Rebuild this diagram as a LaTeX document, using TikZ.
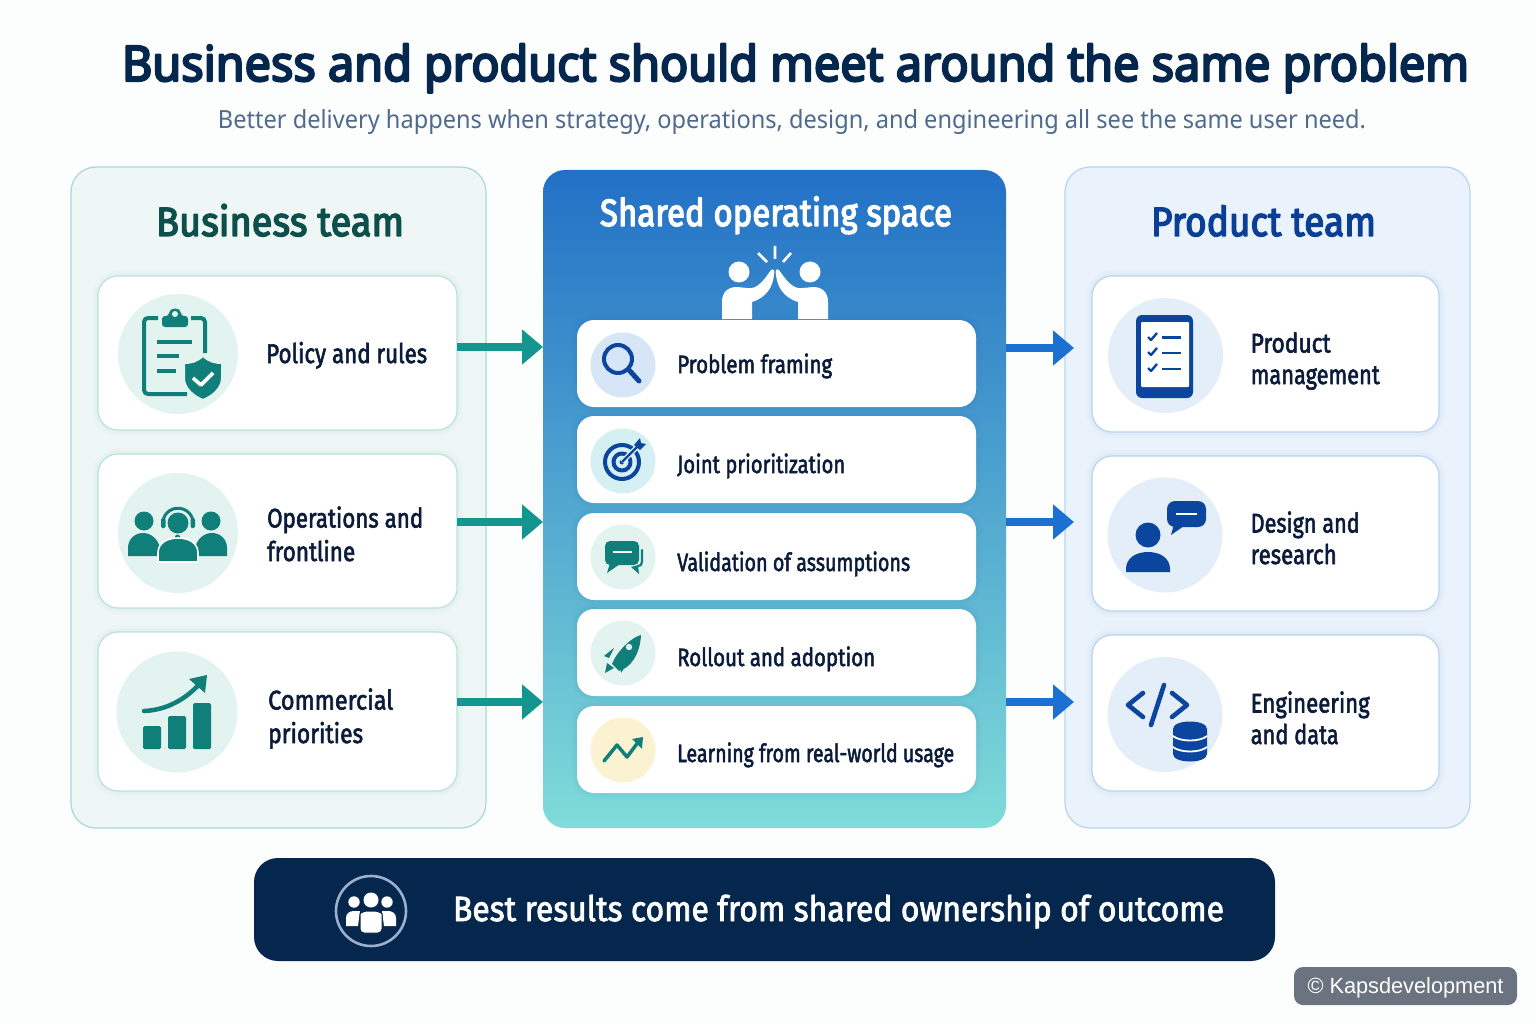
\documentclass[tikz,border=0pt]{standalone}
\usepackage{graphicx}
\usepackage{fontspec}
\usetikzlibrary{arrows.meta}
\setmainfont{Fira Sans}
\newfontfamily\fmed{Fira Sans}[FakeBold=2.4]
\newfontfamily\fhead{Fira Sans}[FakeBold=3.6]
\newfontfamily\ftitle{Noto Sans}[FakeBold=4.6]
\newfontfamily\fsub{Noto Sans}
\newfontfamily\fwm{Liberation Sans}
\newcommand\fitw[2]{\resizebox{#1pt}{\height}{#2}}
\definecolor{bgc}{HTML}{FCFDFD}
\definecolor{ink}{HTML}{0B1B3A}
\definecolor{tealp}{HTML}{EEF7F5}
\definecolor{tealb}{HTML}{A9D9D5}
\definecolor{tealc}{HTML}{E3F3EF}
\definecolor{teali}{HTML}{107F79}
\definecolor{teala}{HTML}{149690}
\definecolor{bluep}{HTML}{EAF3FC}
\definecolor{blueb}{HTML}{B5D4EF}
\definecolor{bluec}{HTML}{E3EEF9}
\definecolor{bluei}{HTML}{0B459E}
\definecolor{bluea}{HTML}{1B70D2}
\definecolor{navy}{HTML}{06274D}
\definecolor{cbt}{HTML}{2270C6}
\definecolor{cbm}{HTML}{4AA6D0}
\definecolor{cbb}{HTML}{80DCD9}
\definecolor{dsearch}{HTML}{D6E6F7}
\definecolor{dtarget}{HTML}{D5F0F2}
\definecolor{dlearn}{HTML}{FBF2D2}
\definecolor{ringc}{HTML}{9AB0CC}
\definecolor{wmc}{HTML}{6B7280}
\definecolor{subc}{HTML}{4F6A8C}
\definecolor{hlc}{HTML}{0D4F4A}
\definecolor{hrc}{HTML}{0B3F95}
\tikzset{
  softsh/.style={preaction={draw=#1,draw opacity=.015,line width=12pt},preaction={draw=#1,draw opacity=.02,line width=7pt},preaction={draw=#1,draw opacity=.02,line width=3pt}},
  box/.style={rectangle,inner sep=0pt,outer sep=0pt},
  panelbox/.style={box,rounded corners=25pt,line width=1.2pt},
  leftcard/.style={box,rounded corners=20pt,fill=white,draw=tealb!80,line width=1.1pt,softsh=teali},
  rightcard/.style={box,rounded corners=20pt,fill=white,draw=blueb,line width=1.1pt,softsh=bluei},
  midcard/.style={box,rounded corners=17pt,fill=white,softsh=bluei},
  disc/.style={circle,inner sep=0pt,outer sep=0pt,minimum size=#1},
  lbl/.style={anchor=base west,align=left,inner sep=0pt,text=ink,font=\fontsize{27}{33.5}\selectfont\fmed},
  rlbl/.style={anchor=base west,align=left,inner sep=0pt,text=ink,font=\fontsize{27}{31.5}\selectfont\fmed},
  mlbl/.style={anchor=base west,inner sep=0pt,text=ink,font=\fontsize{25}{30}\selectfont\fmed},
  head/.style={inner sep=0pt,font=\fontsize{41}{48}\selectfont\fhead},
  tealarrow/.style={draw=teala,line width=8.5pt,-{Triangle[length=21pt,width=34pt]}},
  bluearrow/.style={draw=bluea,line width=8.5pt,-{Triangle[length=21pt,width=34pt]}},
  hl/.style={draw=white,line width=1.6pt},
}
\begin{document}
\begin{tikzpicture}[x=1pt,y=-1pt,line join=round]
\useasboundingbox (0,0) rectangle (1536,1024);
\fill[bgc] (0,0) rectangle (1536,1024);
% title
\node[inner sep=0pt,anchor=base,text=navy,font=\fontsize{49}{56}\selectfont\ftitle] (title) at (795.5,81) {\fitw{1347}{Business and product should meet around the same problem}};
\node[inner sep=0pt,anchor=base,text=subc,font=\fontsize{25}{30}\selectfont\fsub] (subtitle) at (792,129) {\fitw{1148}{Better delivery happens when strategy, operations, design, and engineering all see the same user need.}};
% panels
\node[panelbox,fill=tealp,draw=tealb,minimum width=415pt,minimum height=661pt] (left) at (278.5,497.5) {};
\node[box,rounded corners=22pt,top color=cbt,middle color=cbm,bottom color=cbb,minimum width=463pt,minimum height=658pt] (mid) at (774.5,499) {};
\node[panelbox,fill=bluep,draw=blueb,minimum width=405pt,minimum height=661pt] (right) at (1267.5,497.5) {};
% headers
\node[head,text=hlc,anchor=base] (hl) at (280,236) {\fitw{248}{Business team}};
\node[head,text=white,anchor=base,font=\fontsize{38}{44}\selectfont\fhead] (hm) at (776,226) {\fitw{352}{Shared operating space}};
\node[head,text=hrc,anchor=base] (hr) at (1263.5,236) {\fitw{225}{Product team}};
% left cards
\node[leftcard,minimum width=359pt,minimum height=154pt] (lc1) at (277.5,353) {};
\node[leftcard,minimum width=359pt,minimum height=154pt] (lc2) at (277.5,531) {};
\node[leftcard,minimum width=359pt,minimum height=159pt] (lc3) at (277.5,711.5) {};
% right cards
\node[rightcard,minimum width=347pt,minimum height=156pt] (rc1) at (1265.5,354) {};
\node[rightcard,minimum width=347pt,minimum height=155pt] (rc2) at (1265.5,533.5) {};
\node[rightcard,minimum width=347pt,minimum height=156pt] (rc3) at (1265.5,713) {};
% mid cards
\node[midcard,minimum width=399pt,minimum height=87pt] (mc1) at (776.5,363.5) {};
\node[midcard,minimum width=399pt,minimum height=87pt] (mc2) at (776.5,459.5) {};
\node[midcard,minimum width=399pt,minimum height=87pt] (mc3) at (776.5,556.5) {};
\node[midcard,minimum width=399pt,minimum height=87pt] (mc4) at (776.5,652.5) {};
\node[midcard,minimum width=399pt,minimum height=87pt] (mc5) at (776.5,749.5) {};
% discs
\node[disc=120pt,fill=tealc] (d1) at (178,354) {};
\node[disc=120pt,fill=tealc] (d2) at (178,533) {};
\node[disc=121pt,fill=tealc] (d3) at (177,712) {};
\node[disc=115pt,fill=bluec] (d4) at (1165.5,355.5) {};
\node[disc=115pt,fill=bluec] (d5) at (1165,535) {};
\node[disc=115pt,fill=bluec] (d6) at (1165,714.5) {};
\node[disc=65pt,fill=dsearch] (d7) at (623,365) {};
\node[disc=65pt,fill=dtarget] (d8) at (623,461) {};
\node[disc=65pt,fill=tealc] (d9) at (623,557) {};
\node[disc=65pt,fill=tealc] (d10) at (623,653) {};
\node[disc=65pt,fill=dlearn] (d11) at (623,750) {};
% labels left (a node with several lines sits on its last baseline)
\node[lbl] (t1) at (266,363) {\fitw{161}{Policy and rules}};
\node[lbl] (t2) at (267,561) {\fitw{156}{Operations and}\\\fitw{88}{frontline}};
\node[lbl] (t3) at (268,743) {\fitw{125}{Commercial}\\\fitw{95}{priorities}};
% labels right
\node[rlbl] (t4) at (1250.5,384) {\fitw{80}{Product}\\\fitw{129}{management}};
\node[rlbl] (t5) at (1250.5,564) {\fitw{109}{Design and}\\\fitw{86}{research}};
\node[rlbl] (t6) at (1250.5,744) {\fitw{119}{Engineering}\\\fitw{88}{and data}};
% labels mid
\node[mlbl] (t7) at (677,373) {\fitw{155}{Problem framing}};
\node[mlbl] (t8) at (677,473) {\fitw{168}{Joint prioritization}};
\node[mlbl] (t9) at (677,571) {\fitw{233}{Validation of assumptions}};
\node[mlbl] (t10) at (677,666) {\fitw{198}{Rollout and adoption}};
\node[mlbl] (t11) at (677,762) {\fitw{277}{Learning from real-world usage}};
% connectors
\coordinate (la) at (0,347); \coordinate (lb) at (0,522); \coordinate (lc) at (0,702);
\coordinate (ra) at (1074,348); \coordinate (rb) at (1074,522); \coordinate (rc) at (1074,702);
\draw[tealarrow] (lc1.east |- la) -- (mid.west |- la);
\draw[tealarrow] (lc2.east |- lb) -- (mid.west |- lb);
\draw[tealarrow] (lc3.east |- lc) -- (mid.west |- lc);
\draw[bluearrow] (mid.east |- ra) -- (ra);
\draw[bluearrow] (mid.east |- rb) -- (rb);
\draw[bluearrow] (mid.east |- rc) -- (rc);
% ---- icon: clipboard + shield
\begin{scope}[draw=teali,fill=teali]
\draw[line width=4pt,rounded corners=4pt] (205,353) -- (205,318) -- (191,318);
\draw[line width=4pt,rounded corners=4pt] (158,318) -- (144,318) -- (144,394) -- (187,394);
\fill[rounded corners=3pt] (162,321) -- (162,327) -- (188,327) -- (188,316) -- (181,316) .. controls (181,307) and (169,307) .. (169,316) -- (162,316) -- cycle;
\fill[tealc] (175,314) circle[radius=3pt];
\draw[line width=3.5pt] (157,342) -- (192,342) (157,356) -- (179,356) (157,371) -- (176,371);
\filldraw[draw=tealc,line width=2pt] (203,356) .. controls (196,362) and (191,363) .. (184,363) -- (184,378) .. controls (184,388) and (193,396) .. (203,400) .. controls (213,396) and (222,388) .. (222,378) -- (222,363) .. controls (215,363) and (210,362) .. (203,356) -- cycle;
\draw[draw=white,line width=3.6pt] (193,378) -- (201,385) -- (213,373);
% ---- icon: team
\fill (144,521) circle[radius=9.5pt] (211,521) circle[radius=9.5pt] (178,523) circle[radius=10.5pt];
\draw[line width=3pt] (162.5,527) .. controls (161,502) and (195,502) .. (193.5,527);
\fill[rounded corners=1.5pt] (161,518) rectangle (165.5,528) (190.5,518) rectangle (195,528);
\fill (177.5,537) circle[radius=2.5pt];
\fill (128,556) -- (128,548) .. controls (128,539) and (135,533) .. (143,533) .. controls (151,533) and (158,539) .. (160,548) -- (160,556) -- cycle;
\fill (195,556) -- (195,548) .. controls (197,539) and (204,533) .. (212,533) .. controls (220,533) and (227,539) .. (227,548) -- (227,556) -- cycle;
\filldraw[hl,fill=teali] (158,562) -- (158,553) .. controls (158,543) and (167,538) .. (178,538) .. controls (189,538) and (198,543) .. (198,553) -- (198,562) -- cycle;
% ---- icon: chart
\fill[rounded corners=1.5pt] (143,726) rectangle (161,749);
\fill[rounded corners=1.5pt] (168,716) rectangle (186,749);
\fill[rounded corners=1.5pt] (193,703) rectangle (211,749);
\draw[line width=4.5pt,line cap=round] (144,711) .. controls (168,710) and (188,698) .. (203,680);
\fill (207,675) -- (205,693) -- (189,679) -- cycle;
% ---- icon: chat
\fill[rounded corners=5pt] (605,541) rectangle (639,565);
\fill (610,563) -- (607,573) -- (620,564) -- cycle;
\draw[line width=2.2pt,line cap=round] (642,550) -- (642,562) .. controls (642,565) and (640,566) .. (638,566);
\fill (631,567) -- (639,574) -- (638,565) -- cycle;
\draw[white,line width=2pt] (613,552) -- (632,552);
% ---- icon: rocket
\fill (641,635) .. controls (632,637) and (617,651) .. (612,664) -- (619,671) .. controls (630,668) and (640,655) .. (641,635) -- cycle;
\fill[tealc] (629,647) circle[radius=3.2pt];
\fill (604,656) -- (614,648) -- (609,658) -- cycle;
\fill (605,673) -- (607,663) -- (614,668) -- cycle;
\fill (621,673) -- (621,665) -- (628,662) -- cycle;
% ---- icon: trend
\draw[line width=3.5pt,line cap=round] (604,761) -- (617,745) -- (627,757) -- (639,741);
\fill (643,737) -- (642,749) -- (632,739) -- cycle;
\end{scope}
% ---- icons blue
\begin{scope}[draw=bluei,fill=bluei]
% tablet
\fill[rounded corners=6pt] (1136,315) rectangle (1193,398);
\fill[white,rounded corners=1pt] (1141,322) rectangle (1189,387);
\draw[line width=2.6pt] (1162,337.5) -- (1181,337.5) (1162,353) -- (1181,353) (1162,369) -- (1181,369);
\draw[line width=2.4pt] (1148,337) -- (1151,340) -- (1157,333);
\draw[line width=2.4pt] (1148,352) -- (1151,355) -- (1157,348);
\draw[line width=2.4pt] (1148,368) -- (1151,371) -- (1157,364);
% person with bubble
\fill (1148,535) circle[radius=12.5pt];
\fill (1126,572) -- (1126,569) .. controls (1126,558) and (1136,552) .. (1148,552) .. controls (1160,552) and (1170,558) .. (1170,569) -- (1170,572) -- cycle;
\fill[rounded corners=8pt] (1167,501) rectangle (1206,527);
\fill (1174,524) -- (1171,535) -- (1184,526) -- cycle;
\draw[white,line width=2pt] (1176,514) -- (1197,514);
% code
\draw[line width=4.6pt,line cap=round] (1143,693) -- (1128,705) -- (1143,717);
\draw[line width=4.6pt,line cap=round] (1172,693) -- (1187,705) -- (1172,717);
\draw[line width=4.6pt,line cap=round] (1164,685) -- (1151,725);
% database
\fill (1173,729) .. controls (1173,719) and (1207,719) .. (1207,729) -- (1207,754) .. controls (1207,764) and (1173,764) .. (1173,754) -- cycle;
\draw[white,line width=1.8pt] (1173,736) .. controls (1180,742) and (1200,742) .. (1207,736);
\draw[white,line width=1.8pt] (1173,747) .. controls (1180,753) and (1200,753) .. (1207,747);
% search
\draw[line width=4pt] (618,359) circle[radius=14pt];
\draw[line width=5pt,line cap=round] (629,370) -- (639,381);
% target
\draw[line width=4pt] (622,462) circle[radius=17pt];
\draw[line width=4pt] (622,462) circle[radius=8.5pt];
\fill (622,462) circle[radius=2.5pt];
\draw[dtarget,line width=5pt] (622,462) -- (640,444);
\draw[line width=2.4pt] (622,462) -- (637,447);
\fill (634,445) -- (640,438) -- (641,443) -- (646,444) -- (640,450) -- cycle;
\end{scope}
% ---- high five
\begin{scope}[white,fill=white]
\fill (739,272) circle[radius=10.5pt] (810,272) circle[radius=10.5pt];
\fill (722,319) -- (722,302) .. controls (722,292) and (728,287) .. (737,287) -- (747,288) .. controls (757,290) and (764,280) .. (771,270) .. controls (774,268) and (775,271) .. (774,275) .. controls (773,285) and (768,297) .. (752,302) -- (752,319) -- cycle;
\fill (828,319) -- (828,302) .. controls (828,292) and (822,287) .. (813,287) -- (803,288) .. controls (793,290) and (786,280) .. (779,270) .. controls (776,268) and (775,271) .. (776,275) .. controls (777,285) and (782,297) .. (798,302) -- (798,319) -- cycle;
\draw[line width=2.6pt] (775,246) -- (775,259) (758,253) -- (767,262) (791,253) -- (783,262);
\end{scope}
% banner
\node[box,rounded corners=24pt,fill=navy,minimum width=1021pt,minimum height=103pt] (banner) at (764.5,909.5) {};
\node[circle,inner sep=0pt,outer sep=0pt,minimum size=70pt,draw=ringc,line width=2.6pt] (bi) at (371,911) {};
\begin{scope}[fill=white]
\fill (371,900) circle[radius=7.5pt] (354,902) circle[radius=5.7pt] (387,902) circle[radius=5.7pt];
\fill (346,926) -- (346,918) .. controls (346,913) and (350,911) .. (354,911) -- (360,911) -- (358,926) -- cycle;
\fill (396,926) -- (396,918) .. controls (396,913) and (392,911) .. (388,911) -- (382,911) -- (384,926) -- cycle;
\draw[navy,fill=white,line width=1pt,rounded corners=4pt] (360,933) -- (360,918) .. controls (360,913) and (365,911) .. (371,911) .. controls (377,911) and (382,913) .. (382,918) -- (382,933) -- cycle;
\end{scope}
\node[inner sep=0pt,anchor=base,text=white,font=\fontsize{35}{42}\selectfont\fmed] (bt) at (838.5,921) {\fitw{771}{Best results come from shared ownership of outcome}};
% watermark
\node[box,rounded corners=9pt,fill=wmc,minimum width=223pt,minimum height=38pt] (wm) at (1405.5,986) {};
\node[inner sep=0pt,anchor=base,text=white,font=\fontsize{22}{26}\selectfont\fwm] (wmt) at (1405.5,993) {\fitw{196}{© Kapsdevelopment}};
\end{tikzpicture}
\end{document}
